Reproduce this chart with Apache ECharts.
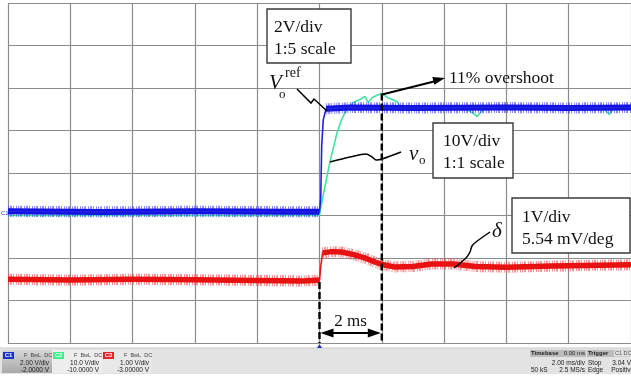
<!DOCTYPE html>
<html>
<head>
<meta charset="utf-8">
<script src="https://cdn.jsdelivr.net/npm/echarts@6/dist/echarts.min.js"></script>
<style>
html,body{margin:0;padding:0;background:#fff;}
#scope{width:631px;height:379px;}
</style>
</head>
<body>
<div id="scope"></div>
<script>
// timebase: 2 ms/div, trigger at 0 (centre of screen)
var timeRange = [-10, 10];
var timeDiv = 2;

// channel settings (V/div, offset V)
var channelNames = ['C1', 'C2', 'C3'];
var channelScale = [2, 10, 1];
var channelOffset = [-2, -10, -3];

// C1: reference voltage (1:5 scale), [ms, V]
var c1Vref = [[-10,0.2],[-7,0.17],[-4,0.2],[-1,0.18],[0,0.18],[0.04,0.8],[0.07,3.25],[0.12,4.5],[0.21,5.02],
    [1,5.08],[3,5.06],[6,5.08],[8,5.06],[10,5.08]];
// C2: output voltage vo, [ms, V]
var c2Vo = [[-10,0],[0,0],[0.03,1.5],[0.18,7.0],[0.34,12.8],[0.55,19.1],[0.71,22.6],[0.87,24.9],[1.08,26.6],
    [1.3,27.3],[1.46,28.0],[1.56,26.6],[1.69,27.7],[1.88,28.4],[2.01,28.7],[2.2,27.7],[2.49,26.8],[2.6,25.6],
    [3.5,25.2],[4.6,25.4],[4.9,24.2],[5.06,23.3],[5.25,24.9],[6.5,25.3],[8.0,25.1],[9.1,25.3],[9.3,23.8],
    [9.45,25.2],[10,25.3]];
// C3: load angle delta, [ms, V]
var c3Delta = [[-10,0.5],[-8,0.48],[-6,0.5],[-4,0.49],[-2,0.47],[-0.5,0.46],[0,0.48],[0.04,0.8],[0.1,1.12],
    [0.4,1.15],[0.7,1.14],[1.1,1.08],[1.5,0.99],[1.8,0.9],[2.05,0.84],[2.4,0.79],[3.0,0.8],[3.6,0.86],
    [4.3,0.86],[5.0,0.8],[6.0,0.78],[7.5,0.81],[9,0.83],[10,0.84]];

var serif = '"Liberation Serif", "Times New Roman", serif';
var sans = '"Liberation Sans", Arial, sans-serif';
var gridColor = '#8c8c8c';
// irregular dash = spiky look of the sampled noise band
var noiseDash = [1, 1, 2, 1, 1, 2, 1, 1, 1, 1, 2, 2];

var chart = echarts.init(document.getElementById('scope'));

// noisy trace = wide band on flat parts, thin line across the fast edge
function bandPart(pts, edgeEnd) {
    return pts.map(function (p) {
        return (p[0] > 0 && p[0] < edgeEnd) ? [p[0], '-'] : p;
    });
}

function yAxisFor(i) {
    var mid = -channelOffset[i];
    return {
        type: 'value',
        min: mid - 4 * channelScale[i],
        max: mid + 4 * channelScale[i],
        interval: channelScale[i],
        show: i == 0,
        axisLine: {show: false},
        axisTick: {show: false},
        axisLabel: {show: false},
        splitLine: {show: i == 0, lineStyle: {color: gridColor, width: 1.2}}
    };
}

function trace(data, y, color, width, opacity, z, dash) {
    return {
        type: 'line', data: data, yAxisIndex: y, showSymbol: false, symbol: 'none',
        connectNulls: false, silent: true, z: z,
        lineStyle: {color: color, width: width, opacity: opacity, join: 'round', type: dash || 'solid'}
    };
}

var option = {
    animation: false,
    grid: {left: 8, top: 3, width: 623.5, height: 340},
    xAxis: {
        type: 'value', min: timeRange[0], max: timeRange[1], interval: timeDiv,
        axisLine: {show: false}, axisTick: {show: false}, axisLabel: {show: false},
        splitLine: {show: true, lineStyle: {color: gridColor, width: 1.2}}
    },
    yAxis: [yAxisFor(0), yAxisFor(1), yAxisFor(2)],
    series: [
        trace(c2Vo, 1, '#3fe3a3', 1.6, 1, 2),
        trace(bandPart(c1Vref, 0.21), 0, '#4040f0', 11, 0.6, 3, noiseDash),
        trace(bandPart(c1Vref, 0.21), 0, '#1212e0', 6, 1, 4),
        trace(c1Vref, 0, '#2020e0', 1.6, 1, 4),
        trace(bandPart(c3Delta, 0.1), 2, '#f04848', 11, 0.6, 5, noiseDash),
        trace(bandPart(c3Delta, 0.1), 2, '#e81010', 5.5, 1, 6),
        trace(c3Delta, 2, '#e61414', 1.6, 1, 6)
    ]
};
chart.setOption(option);

function px(t, v, ch) {
    return chart.convertToPixel({xAxisIndex: 0, yAxisIndex: ch}, [t, v]);
}
function txt(x, y, s, font, opts) {
    opts = opts || {};
    return {
        type: 'text', silent: true, z: 100,
        style: {
            text: s, x: x, y: y, font: font, fill: opts.fill || '#111',
            textAlign: opts.align || 'left', textVerticalAlign: 'middle'
        }
    };
}
function line(points, w, dash, smooth) {
    return {
        type: 'polyline', silent: true, z: 90,
        shape: {points: points, smooth: smooth || 0},
        style: {stroke: '#000', lineWidth: w, lineDash: dash || null, fill: null}
    };
}
function box(x, y, w, h) {
    return {type: 'rect', silent: true, z: 95, shape: {x: x, y: y, width: w, height: h},
        style: {fill: '#fff', stroke: '#3a3a3a', lineWidth: 1.4}};
}
function head(tip, from, len, wid) {
    var dx = tip[0] - from[0], dy = tip[1] - from[1];
    var d = Math.sqrt(dx * dx + dy * dy), ux = dx / d, uy = dy / d;
    var bx = tip[0] - ux * len, by = tip[1] - uy * len;
    return {type: 'polygon', silent: true, z: 91, shape: {points: [tip,
        [bx - uy * wid / 2, by + ux * wid / 2], [bx + uy * wid / 2, by - ux * wid / 2]]},
        style: {fill: '#000'}};
}
function rect(x, y, w, h, fill) {
    return {type: 'rect', silent: true, z: 80, shape: {x: x, y: y, width: w, height: h}, style: {fill: fill}};
}

// cursor positions from the data
var peak = c2Vo.reduce(function (a, b) { return b[1] > a[1] ? b : a; });
var x0 = px(0, 0, 0)[0];
var x2 = px(2, 0, 0)[0];
var yBottom = 343;
var yRedBase = px(0, c3Delta[6][1], 2)[1];
var pPeak = px(peak[0], peak[1], 1);

var g = [];
// dashed cursors
g.push(line([[x0, yRedBase + 2], [x0, yBottom]], 2.4, [7, 3]));
g.push(line([[x2, pPeak[1]], [x2, yBottom]], 2.4, [7, 3]));
// 2 ms arrow
g.push(line([[x0 + 10, 333], [x2 - 10, 333]], 2));
g.push(head([x0 + 1, 333], [x2, 333], 13, 9));
g.push(head([x2 - 1, 333], [x0, 333], 13, 9));
g.push(txt((x0 + x2) / 2, 322, '2 ms', '17px ' + serif, {align: 'center'}));

// overshoot arrow
g.push(line([[pPeak[0], pPeak[1] + 1], [436, 81]], 2));
g.push(head([445, 78], [pPeak[0], pPeak[1]], 12, 8));
g.push(txt(449, 78, '11% overshoot', '17.5px ' + serif));

// boxes
g.push(box(267, 9, 84, 54));
g.push(txt(274, 27.5, '2V/div', '17.5px ' + serif));
g.push(txt(274, 49.5, '1:5 scale', '17.5px ' + serif));
g.push(box(433, 123, 80, 55));
g.push(txt(443, 141, '10V/div', '17.5px ' + serif));
g.push(txt(443, 163, '1:1 scale', '17.5px ' + serif));
g.push(box(512, 198, 118, 55));
g.push(txt(522, 217.5, '1V/div', '17.5px ' + serif));
g.push(txt(522, 239, '5.54 mV/deg', '17.5px ' + serif));

// labels and leaders
g.push(txt(269, 83, 'V', 'italic 21px ' + serif));
g.push(txt(285, 73, 'ref', '14px ' + serif));
g.push(txt(279, 95, 'o', '13px ' + serif));
g.push(line([[297, 89], [311, 103], [314, 99], [327, 111]], 1.5));
g.push(txt(409, 154, 'v', 'italic 21px ' + serif));
g.push(txt(419, 161, 'o', '13px ' + serif));
g.push(line([[330, 162], [350, 157], [366, 154], [372, 157], [376, 160], [382, 159], [401, 152]], 1.5, null, 0.3));
g.push(txt(492, 231, 'δ', 'italic 21px ' + serif));
g.push(line([[454, 268], [466, 258], [470, 252], [472, 246], [476, 242], [490, 232]], 1.5, null, 0.3));

// channel marker and trigger marker
g.push(txt(1, 213, 'C1', '6px ' + sans, {fill: '#2a3ad0'}));
g.push({type: 'polygon', silent: true, z: 90, shape: {points: [[x0, 344], [x0 - 2.5, 348], [x0 + 2.5, 348]]},
    style: {fill: '#2030d0'}});

// status bar
g.push(rect(0, 348, 631, 26, '#e3e3e3'));
g.push(rect(0, 347.5, 631, 1, '#cbcbcb'));
g.push({type: 'rect', silent: true, z: 81, shape: {x: 2, y: 350, width: 50, height: 23},
    style: {fill: new echarts.graphic.LinearGradient(0, 0, 0, 1, [{offset: 0, color: '#d6d6d6'}, {offset: 1, color: '#a8a8a8'}])}});
g.push(rect(52, 350, 50, 23, '#ededed'));
g.push(rect(102, 350, 50, 23, '#e8e8e8'));
var badgeColors = ['#1a2fd0', '#3cef8c', '#e8232a'];
var vdivText = ['2.00 V/div', '10.0 V/div', '1.00 V/div'];
var offText = ['-2.0000 V', '-10.0000 V', '-3.00000 V'];
for (var i = 0; i < 3; i++) {
    var bx = 3 + i * 50;
    g.push({type: 'rect', silent: true, z: 82, shape: {x: bx, y: 352, width: 11, height: 7}, style: {fill: badgeColors[i]}});
    g.push(txt(bx + 5.5, 355.5, channelNames[i], 'bold 6px ' + sans, {align: 'center', fill: '#fff'}));
    g.push(txt(bx + 21, 355.5, 'F  BwL  DC', '5.5px ' + sans, {fill: '#444'}));
    g.push(txt(bx + 46, 363.5, vdivText[i], '6.5px ' + sans, {align: 'right', fill: '#222'}));
    g.push(txt(bx + 46, 370, offText[i], '6.5px ' + sans, {align: 'right', fill: '#222'}));
}
g.push(rect(530, 350, 56, 7, '#bcbcbc'));
g.push(txt(531, 353.5, 'Timebase', 'bold 6px ' + sans, {fill: '#222'}));
g.push(txt(585, 353.5, '0.00 ms', '6px ' + sans, {align: 'right', fill: '#222'}));
g.push(txt(585, 363.5, '2.00 ms/div', '6.5px ' + sans, {align: 'right', fill: '#222'}));
g.push(txt(531, 370, '50 kS', '6.5px ' + sans, {fill: '#222'}));
g.push(txt(585, 370, '2.5 MS/s', '6.5px ' + sans, {align: 'right', fill: '#222'}));
g.push(rect(587, 350, 44, 7, '#bcbcbc'));
g.push(txt(588, 353.5, 'Trigger', 'bold 6px ' + sans, {fill: '#222'}));
g.push(rect(614, 350.5, 17, 6, '#e0e0e0'));
g.push(txt(615, 353.5, 'C1 DC', '5.5px ' + sans, {fill: '#555'}));
g.push(txt(588, 363.5, 'Stop', '6.5px ' + sans, {fill: '#222'}));
g.push(txt(631, 363.5, '3.04 V', '6.5px ' + sans, {align: 'right', fill: '#222'}));
g.push(txt(588, 370, 'Edge', '6.5px ' + sans, {fill: '#222'}));
g.push(txt(634, 370, 'Positive', '6.5px ' + sans, {align: 'right', fill: '#222'}));

chart.setOption({graphic: g});
</script>
</body>
</html>
